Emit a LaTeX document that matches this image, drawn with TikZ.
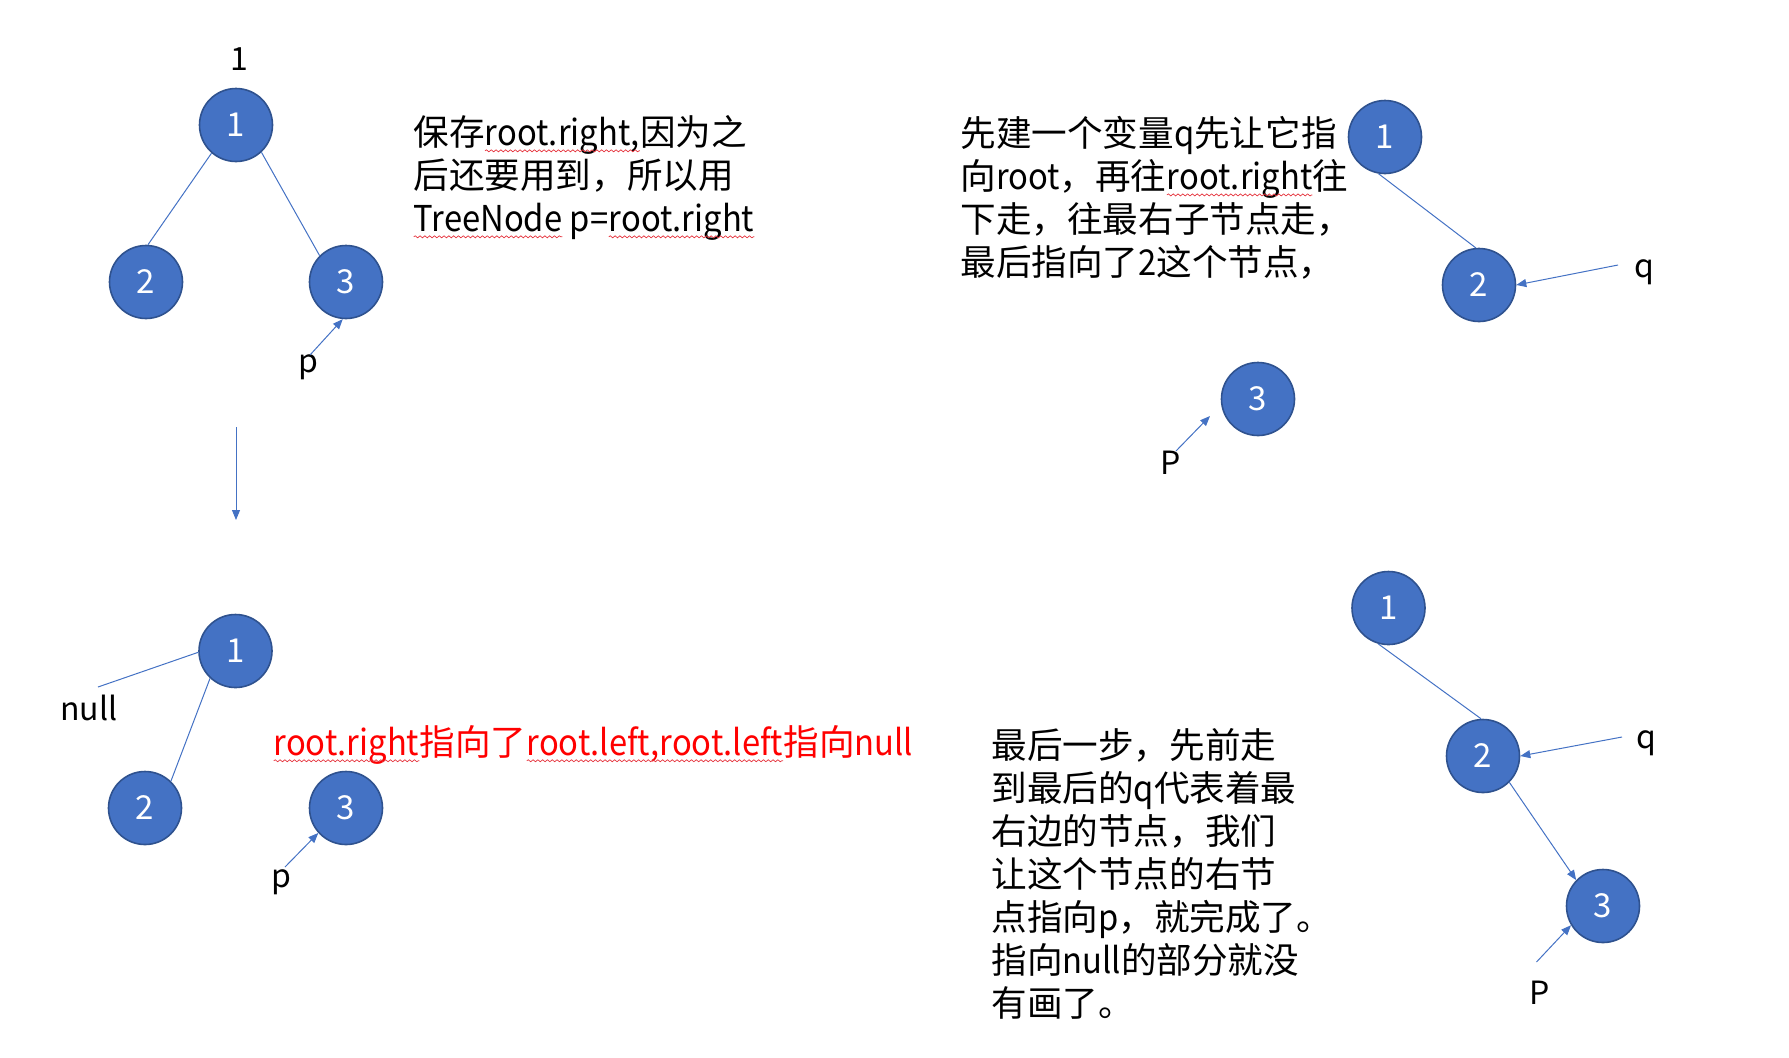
\documentclass[tikz,border=0pt]{standalone}
\usepackage{fontspec}
\setmainfont{Noto Sans CJK SC}
\newfontfamily\narrowlatin[FakeStretch=0.92]{Noto Sans CJK SC}
\usetikzlibrary{arrows.meta, positioning, calc, decorations.pathmorphing}

\definecolor{nodeblue}{HTML}{4472C4}
\definecolor{nodeedge}{HTML}{2F528F}
\definecolor{spellred}{HTML}{E5323C}

% latin runs are set a bit narrower
\newcommand\lat[1]{{\narrowlatin #1}}
% red wavy underline of the spell checker
\newcommand\spellwave[1]{\tikz[baseline=(w.base)]{\node[inner sep=0pt, outer sep=0pt] (w) {#1};
  \draw[spellred, line width=0.35pt, decorate, decoration={snake, amplitude=0.5pt, segment length=2.4pt}]
    ([yshift=-2.6pt]w.base west) -- ([yshift=-2.6pt]w.base east);}}

\begin{document}
\begin{tikzpicture}[
  x=0.5pt, y=-0.5pt,
  treenode/.style = {circle, draw=nodeedge, line width=0.8pt, fill=nodeblue, minimum size=36.5pt,
                     inner sep=0pt, text=white, font=\fontsize{16.5}{16.5}\selectfont},
  tag/.style = {inner sep=0pt, font=\fontsize{16}{16}\selectfont},
  note/.style = {align=left, anchor=west, inner sep=0pt, font=\fontsize{17.8}{21.5}\selectfont},
  link/.style = {nodeblue, line width=0.5pt},
  arrow/.style = {link, -{Triangle[width=4pt, length=5pt]}}
]
  \useasboundingbox (0,0) rectangle (1789,1057);

  % Tree before the change
  \node[tag] (rootlabel) at (239,59) {1};
  \node[treenode] (a1) at (236,125) {1};
  \node[treenode] (a2) at (146,282) {2};
  \node[treenode] (a3) at (346,282) {3};
  \draw[link] (a1.229) -- (a2.87);
  \draw[link] (a1.313) -- (a3.135);

  % p keeps root.right
  \node[tag] (ap) at (308,367) {p};
  \coordinate (ap_tail) at (310,355);
  \draw[arrow] (ap_tail) -- (a3.265);

  \node[note] (keep) at (413,178)
    {保存\spellwave{\lat{root.right,}}因为之\\后还要用到，所以用\\\spellwave{\lat{TreeNode}}\lat{ p=}\spellwave{\lat{root.right}}};

  % Step down
  \coordinate (down_from) at (236,427);
  \coordinate (down_to) at (236,520);
  \draw[arrow] (down_from) -- (down_to);

  % Tree after moving the left child
  \node[treenode] (b1) at (235.5,651) {1};
  \node[treenode] (b2) at (145,808) {2};
  \node[treenode] (b3) at (346,808) {3};
  \node[tag] (bnull) at (89,708) {null};
  \coordinate (bnull_end) at (98,687);
  \draw[link] (b1.182) -- (bnull_end);
  \draw[link] (b1.227) -- (b2.46);

  \node[tag] (bp) at (281,882) {p};
  \coordinate (bp_tail) at (285,867);
  \draw[arrow] (bp_tail) -- (b3.222);

  \node[note, text=red] (swap) at (273,745)
    {\spellwave{\lat{root.right}}指向了\spellwave{\lat{root.left,root.left}}指向\lat{null}};

  % Walk q to the rightmost node
  \node[note] (walk) at (960,198)
    {先建一个变量\lat{q}先让它指\\向\lat{root}，再往\spellwave{\lat{root.right}}往\\下走，往最右子节点走，\\最后指向了\lat{2}这个节点，};
  \node[treenode] (c1) at (1385,137) {1};
  \node[treenode] (c2) at (1479,285) {2};
  \node[treenode] (c3) at (1258,399) {3};
  \draw[link] (c1.260) -- (c2.95);

  \node[tag] (cq) at (1644,272) {q};
  \coordinate (cq_tail) at (1618,265);
  \draw[arrow] (cq_tail) -- (c2.east);

  \node[tag] (cp) at (1171,463) {P};
  \coordinate (cp_tail) at (1176,451);
  \coordinate (cp_tip) at (1210,416);
  \draw[arrow] (cp_tail) -- (cp_tip);

  % Final tree
  \node[treenode] (d1) at (1388.5,608) {1};
  \node[treenode] (d2) at (1483,756) {2};
  \node[treenode] (d3) at (1603,906) {3};
  \draw[link] (d1.254) -- (d2.93);
  \draw[arrow] (d2.315) -- (d3.136);

  \node[tag] (dq) at (1646,743) {q};
  \coordinate (dq_tail) at (1622,737);
  \draw[arrow] (dq_tail) -- (d2.east);

  \node[tag] (dp) at (1540,993) {P};
  \coordinate (dp_tail) at (1536.5,962);
  \draw[arrow] (dp_tail) -- (d3.211);

  \node[note] (finish) at (991,874)
    {最后一步，先前走\\到最后的\lat{q}代表着最\\右边的节点，我们\\让这个节点的右节\\点指向\lat{p}，就完成了。\\指向\lat{null}的部分就没\\有画了。};

\end{tikzpicture}
\end{document}
